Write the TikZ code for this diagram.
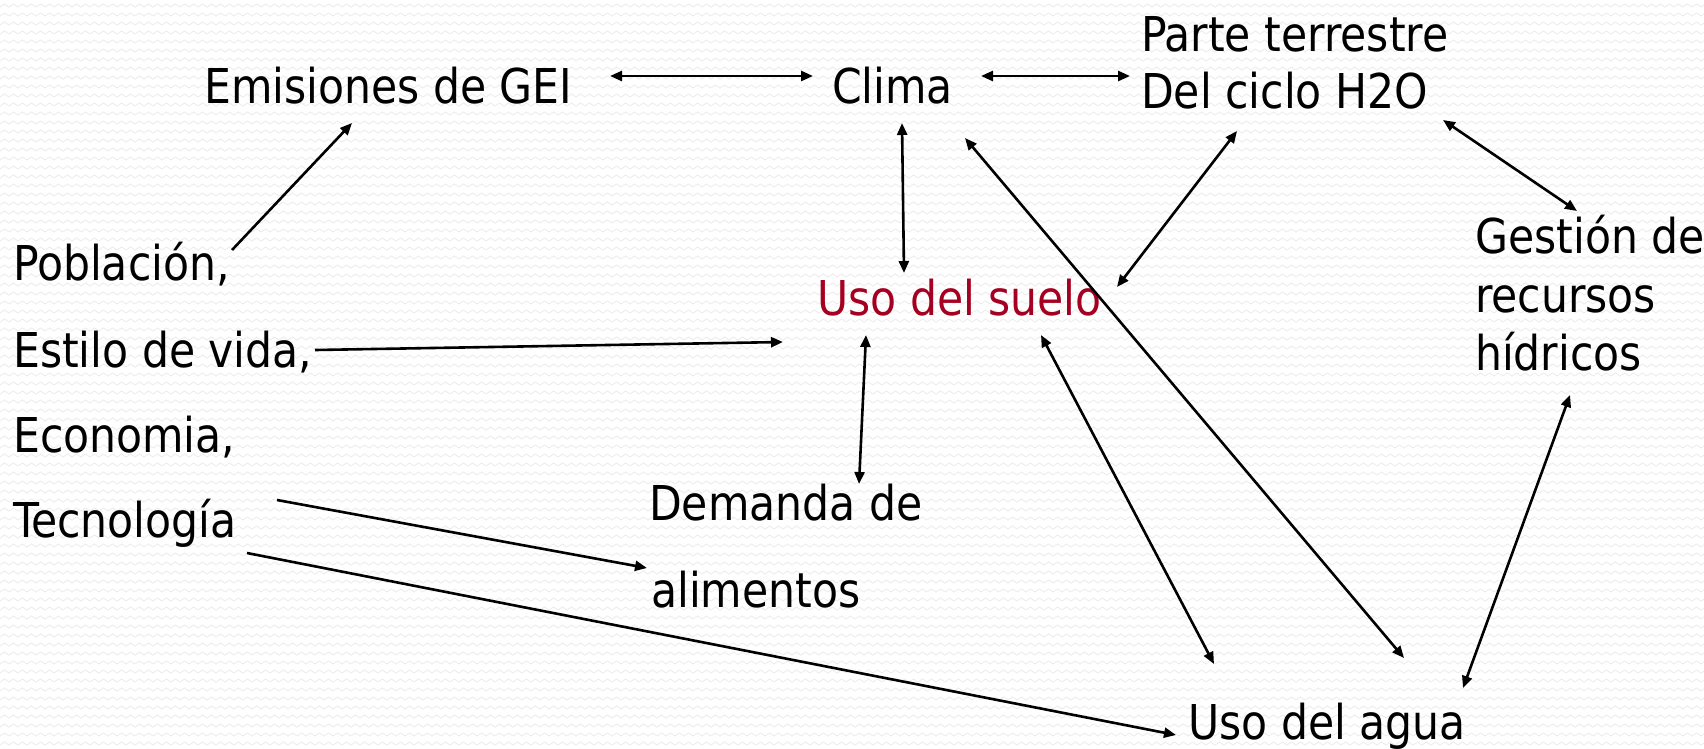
\documentclass[tikz,border=0pt]{standalone}
\usepackage{fontspec}
\setmainfont{DejaVu Sans Condensed}[FakeStretch=0.985]
\usetikzlibrary{arrows.meta,patterns}
\pgfdeclarepatternformonly{zigbg}{\pgfqpoint{-1pt}{-1pt}}{\pgfqpoint{10pt}{10pt}}{\pgfqpoint{9pt}{9pt}}{%
  \pgfsetlinewidth{0.9pt}%
  \pgfpathmoveto{\pgfqpoint{0pt}{3pt}}%
  \pgfpathlineto{\pgfqpoint{4.5pt}{6pt}}%
  \pgfpathlineto{\pgfqpoint{9pt}{3pt}}%
  \pgfusepath{stroke}}
\definecolor{suelored}{HTML}{A50021}
\definecolor{bgzig}{HTML}{EDEDED}
\begin{document}
\begin{tikzpicture}[x=1pt,y=-1pt,
  lbl/.style={anchor=base west,inner sep=0pt,font=\fontsize{48}{58}\selectfont,text=black},
  tip/.tip={Triangle[length=12pt,width=10pt]},
  both/.style={line width=2.6pt,tip-tip},
  one/.style={line width=2.6pt,-tip}]
\useasboundingbox (0,0) rectangle (1704,748);
\fill[white] (0,0) rectangle (1704,748);
\fill[pattern=zigbg,pattern color=bgzig] (0,0) rectangle (1704,748);

% labels
\node[lbl] (emis) at (204,103) {Emisiones de GEI};
\node[lbl] (clima) at (832,103) {Clima};
\node[lbl] (parte) at (1141,51) {Parte terrestre};
\node[lbl] (ciclo) at (1141,108) {Del ciclo H2O};
\node[lbl] (pob) at (13,280) {Población,};
\node[lbl] (estilo) at (13,367) {Estilo de vida,};
\node[lbl] (econ) at (13,452) {Economia,};
\node[lbl] (tecno) at (13,537) {Tecnología};
\node[lbl,text=suelored] (suelo) at (817,315) {Uso del suelo};
\node[lbl] (demanda) at (649,520) {Demanda de};
\node[lbl] (alim) at (651,607) {alimentos};
\node[lbl] (gest) at (1475,253) {Gestión de};
\node[lbl] (recur) at (1475,312) {recursos};
\node[lbl] (hidr) at (1475,370) {hídricos};
\node[lbl] (agua) at (1188,739) {Uso del agua};

% connector end points
\coordinate (emisR) at (610,76);
\coordinate (climaL) at (813,76);
\coordinate (climaR) at (981,76);
\coordinate (parteL) at (1130,76);
\coordinate (climaB) at (902,123);
\coordinate (sueloT) at (904,273);
\coordinate (pobR) at (232,250);
\coordinate (emisB) at (352,123);
\coordinate (estiloR) at (315,350);
\coordinate (sueloL) at (783,342);
\coordinate (sueloB) at (866,335);
\coordinate (demT) at (859,484);
\coordinate (cicloB) at (1237,131);
\coordinate (sueloR) at (1117,287);
\coordinate (climaD) at (965,138);
\coordinate (aguaT2) at (1404,658);
\coordinate (sueloBR) at (1041,335);
\coordinate (aguaT1) at (1214,664);
\coordinate (cicloR) at (1443,120);
\coordinate (gestT) at (1577,211);
\coordinate (gestB) at (1570,395);
\coordinate (aguaT3) at (1463,688);
\coordinate (tecR1) at (277,500);
\coordinate (alimL) at (647,568);
\coordinate (tecR2) at (247,553);
\coordinate (aguaL) at (1176,735);

% connectors
\draw[both] (emisR) -- (climaL);
\draw[both] (climaR) -- (parteL);
\draw[both] (climaB) -- (sueloT);
\draw[one] (pobR) -- (emisB);
\draw[one] (estiloR) -- (sueloL);
\draw[both] (sueloB) -- (demT);
\draw[both] (cicloB) -- (sueloR);
\draw[both] (climaD) -- (aguaT2);
\draw[both] (sueloBR) -- (aguaT1);
\draw[both] (cicloR) -- (gestT);
\draw[both] (gestB) -- (aguaT3);
\draw[one] (tecR1) -- (alimL);
\draw[one] (tecR2) -- (aguaL);
\end{tikzpicture}
\end{document}
